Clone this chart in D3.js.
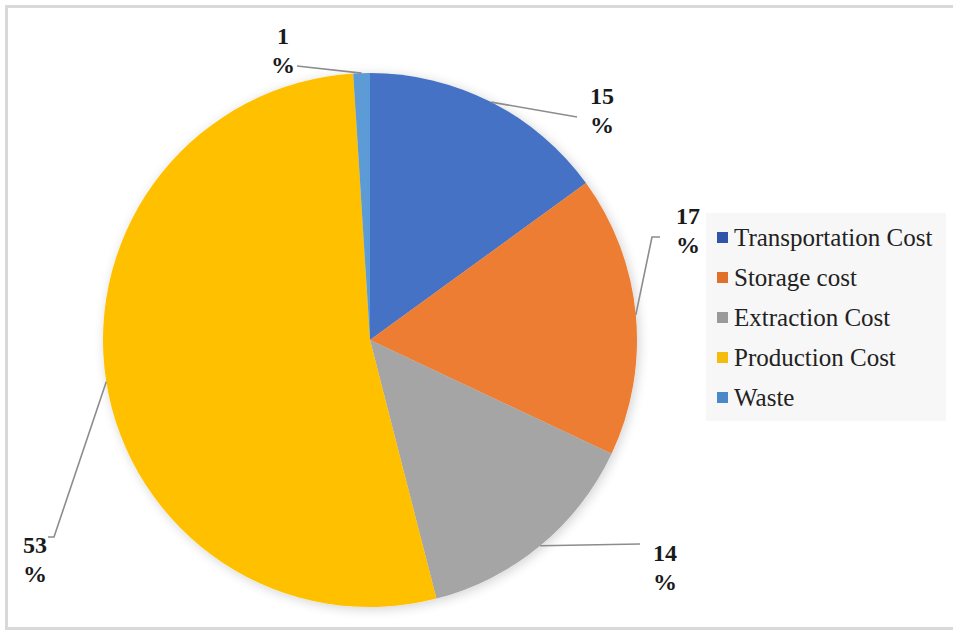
<!DOCTYPE html>
<html><head><meta charset="utf-8">
<script src="https://cdn.jsdelivr.net/npm/d3@7"></script>
<style>body{margin:0;background:#fff}svg{display:block}</style>
</head><body><svg id="c" width="953" height="630"></svg>
<script>
const categories = ["Transportation Cost","Storage cost","Extraction Cost","Production Cost","Waste"];
const values = [15,17,14,53,1];
const colors = ["#4472C4","#ED7D31","#A5A5A5","#FFC000","#5B9BD5"];
const legendColors = ["#2F55A8","#E0702A","#9A9A9A","#F5BC10","#4A88C8"];

// label layout (manually placed as in the reference)
const labelLayout = [
  {x:602, y:104, elbow:[[577,117]]},
  {x:688, y:224, elbow:[[652,237],[660,237]]},
  {x:665, y:561, elbow:[[640,544]]},
  {x:35,  y:553, elbow:[[54,537],[48,537]]},
  {x:283, y:44,  elbow:[[297,66]]}
];

const svg = d3.select("#c");
const cx=370, cy=340, R=267;

svg.append("rect").attr("x",6.5).attr("y",6.5).attr("width",980).attr("height",622)
  .attr("fill","#fff").attr("stroke","#d9d9d9").attr("stroke-width",3);

const defs = svg.append("defs");
const f = defs.append("filter").attr("id","sh").attr("x","-20%").attr("y","-20%").attr("width","140%").attr("height","140%");
f.append("feGaussianBlur").attr("in","SourceAlpha").attr("stdDeviation",6).attr("result","b");
f.append("feOffset").attr("in","b").attr("dx",2).attr("dy",2).attr("result","o");
f.append("feComponentTransfer").attr("in","o").attr("result","o2").append("feFuncA").attr("type","linear").attr("slope",0.18);
const m = f.append("feMerge"); m.append("feMergeNode").attr("in","o2"); m.append("feMergeNode").attr("in","SourceGraphic");

const pie = d3.pie().sort(null).value(d=>d)(values);
const arc = d3.arc().innerRadius(0).outerRadius(R);
const edge = d3.arc().innerRadius(R).outerRadius(R);

const g = svg.append("g").attr("transform",`translate(${cx},${cy})`).attr("filter","url(#sh)");
g.selectAll("path").data(pie).join("path").attr("d",arc).attr("fill",(d,i)=>colors[i]);

// leader lines + labels
const lg = svg.append("g");
pie.forEach((d,i)=>{
  const c = edge.centroid(d);
  const pts = [[cx+c[0],cy+c[1]], ...labelLayout[i].elbow];
  lg.append("path").attr("d", d3.line()(pts)).attr("fill","none").attr("stroke","#8c8c8c").attr("stroke-width",1.6);
  const t = lg.append("text").attr("font-family","Liberation Serif, Times New Roman, serif")
    .attr("font-weight","bold").attr("font-size",24).attr("fill","#1a1a1a").attr("text-anchor","middle");
  t.append("tspan").attr("x",labelLayout[i].x).attr("y",labelLayout[i].y).text(values[i]);
  t.append("tspan").attr("x",labelLayout[i].x).attr("y",labelLayout[i].y+29).text("%");
});

// legend
const leg = svg.append("g");
leg.append("rect").attr("x",706).attr("y",213).attr("width",240).attr("height",208).attr("fill","#f7f7f7");
categories.forEach((c,i)=>{
  const by = 246 + i*40;
  leg.append("rect").attr("x",717).attr("y",by-14).attr("width",11).attr("height",11).attr("fill",legendColors[i]);
  leg.append("text").attr("x",734).attr("y",by).attr("font-family","Liberation Serif, Times New Roman, serif")
    .attr("font-size",25).attr("fill","#222").text(c);
});
</script></body></html>
